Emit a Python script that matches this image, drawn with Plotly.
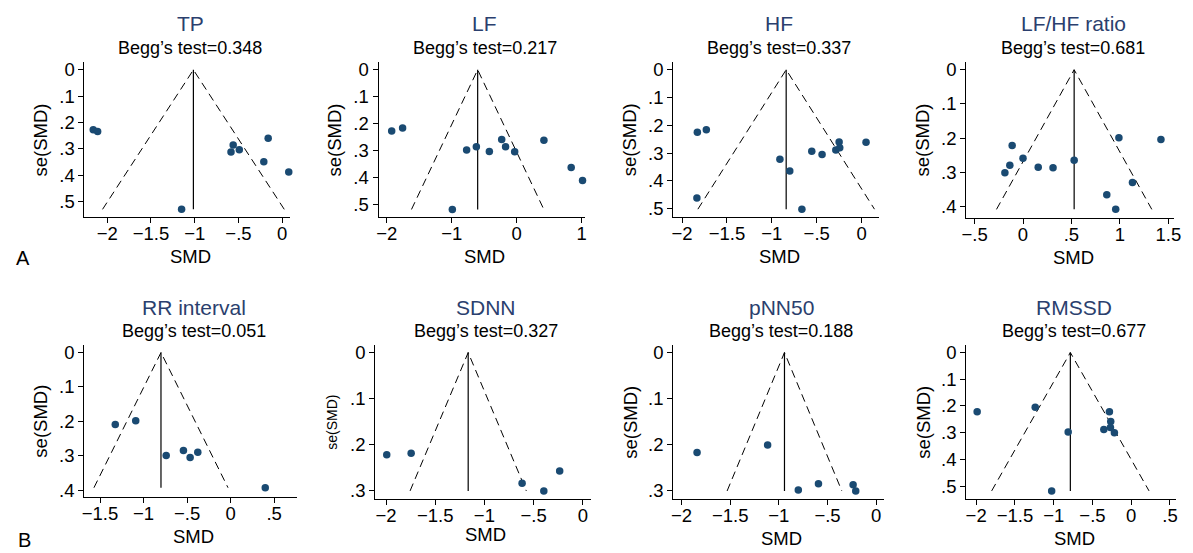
import plotly.graph_objects as go

W, H = 1193, 553

# ---------------- data ----------------
names = ["TP", "LF", "HF", "LF/HF ratio", "RR interval", "SDNN", "pNN50", "RMSSD"]
begg = ["0.348", "0.217", "0.337", "0.681", "0.051", "0.327", "0.188", "0.677"]

tp_smd = [-2.16, -2.11, -1.15, -0.56, -0.585, -0.49, -0.16, -0.21, 0.075]
tp_se = [0.228, 0.234, 0.53, 0.286, 0.312, 0.304, 0.26, 0.349, 0.388]
lf_smd = [-1.924, -1.756, -0.99, -0.77, -0.62, -0.42, -0.23, -0.17, -0.03, 0.42, 0.84, 1.015]
lf_se = [0.228, 0.217, 0.52, 0.299, 0.287, 0.304, 0.26, 0.287, 0.305, 0.262, 0.364, 0.412]
hf_smd = [-1.83, -1.73, -1.835, -0.91, -0.80, -0.665, -0.555, -0.44, -0.287, -0.25, -0.243, 0.05]
hf_se = [0.225, 0.216, 0.462, 0.322, 0.365, 0.502, 0.293, 0.305, 0.289, 0.26, 0.281, 0.261]
lfhf_smd = [-0.187, -0.136, -0.112, 0.0, 0.157, 0.31, 0.528, 0.99, 1.424, 1.13, 0.865, 0.957]
lfhf_se = [0.302, 0.28, 0.222, 0.259, 0.286, 0.287, 0.265, 0.199, 0.204, 0.33, 0.366, 0.409]
rr_smd = [-1.325, -1.09, -0.74, -0.542, -0.465, -0.377, 0.398]
rr_se = [0.209, 0.198, 0.299, 0.285, 0.305, 0.29, 0.393]
sdnn_smd = [-1.993, -1.745, -0.617, -0.396, -0.235]
sdnn_se = [0.2225, 0.2197, 0.285, 0.3015, 0.258]
pnn_smd = [-1.84, -1.115, -0.80, -0.593, -0.237, -0.21]
pnn_se = [0.217, 0.2007, 0.2986, 0.285, 0.287, 0.3007]
rmssd_smd = [-1.987, -1.238, -0.813, -0.353, -0.281, -0.264, -0.268, -0.217, -1.026]
rmssd_se = [0.2217, 0.2044, 0.297, 0.288, 0.2217, 0.2586, 0.281, 0.300, 0.518]

# pooled SMD (funnel centre)
pooled = [-1.015, -0.60, -0.84, 0.528, -0.80, -1.165, -0.942, -0.785]

smd_list = [tp_smd, lf_smd, hf_smd, lfhf_smd, rr_smd, sdnn_smd, pnn_smd, rmssd_smd]
se_list = [tp_se, lf_se, hf_se, lfhf_se, rr_se, sdnn_se, pnn_se, rmssd_se]

xticks = [
    [-2, -1.5, -1, -0.5, 0],
    [-2, -1, 0, 1],
    [-2, -1.5, -1, -0.5, 0],
    [-0.5, 0, 0.5, 1, 1.5],
    [-1.5, -1, -0.5, 0, 0.5],
    [-2, -1.5, -1, -0.5, 0],
    [-2, -1.5, -1, -0.5, 0],
    [-2, -1.5, -1, -0.5, 0, 0.5],
]
yticks = [
    [0, 0.1, 0.2, 0.3, 0.4, 0.5],
    [0, 0.1, 0.2, 0.3, 0.4, 0.5],
    [0, 0.1, 0.2, 0.3, 0.4, 0.5],
    [0, 0.1, 0.2, 0.3, 0.4],
    [0, 0.1, 0.2, 0.3, 0.4],
    [0, 0.1, 0.2, 0.3],
    [0, 0.1, 0.2, 0.3],
    [0, 0.1, 0.2, 0.3, 0.4, 0.5],
]

# ---------------- layout geometry ----------------
# plot boxes in pixels: left, right, top, bottom
boxes = [
    (80.3, 288.3, 60, 216.7),
    (377.3, 585.7, 60, 216.7),
    (675, 883.3, 60, 216.7),
    (971, 1181, 60, 217.3),
    (80, 295, 346.7, 500),
    (374, 591.7, 346.7, 502.3),
    (675, 887.7, 346.7, 502.3),
    (971, 1183.3, 346.7, 502.3),
]
xranges = [(-2.26, 0.094), (-2.127, 1.05), (-2.099, 0.199), (-0.586, 1.56),
           (-1.682, 0.763), (-2.11, 0.081), (-2.085, 0.078), (-2.128, 0.583)]
yranges = [(0.559, -0.029), (0.548, -0.028), (0.53, -0.027), (0.433, -0.022),
           (0.419, -0.021), (0.319, -0.0158), (0.318, -0.0157), (0.548, -0.027)]

FONT = "Liberation Sans, Arial, Helvetica, sans-serif"
DOT = "#1a4a72"
TITLE = "#2b3f6e"


def fmt(v):
    if abs(v) < 1e-9:
        return "0"
    s = ("%g" % abs(v))
    if s.startswith("0."):
        s = s[1:]
    return ("\u2212" + s) if v < 0 else s


fig = go.Figure()
annotations = []

for i in range(8):
    k = i + 1
    xa = "x" if k == 1 else f"x{k}"
    ya = "y" if k == 1 else f"y{k}"
    l, r, t, b = boxes[i]
    semax = max(se_list[i])
    c = pooled[i]
    hw = 1.96 * semax
    # pseudo 95% confidence limits
    fig.add_trace(go.Scatter(
        x=[c - hw, c, c + hw], y=[semax, 0, semax], mode="lines",
        line=dict(color="black", width=1, dash="8px,5px"),
        xaxis=xa, yaxis=ya, showlegend=False, hoverinfo="skip"))
    # pooled estimate line
    fig.add_trace(go.Scatter(
        x=[c, c], y=[0, semax], mode="lines",
        line=dict(color="black", width=1.2),
        xaxis=xa, yaxis=ya, showlegend=False, hoverinfo="skip"))
    # studies
    fig.add_trace(go.Scatter(
        x=smd_list[i], y=se_list[i], mode="markers",
        marker=dict(color=DOT, size=7.5),
        cliponaxis=False,
        xaxis=xa, yaxis=ya, showlegend=False))

    axcommon = dict(showline=True, linecolor="black", linewidth=1,
                    ticks="outside", ticklen=5, tickwidth=1, tickcolor="black",
                    showgrid=False, zeroline=False,
                    tickfont=dict(family=FONT, size=18.5, color="black"))
    fig.layout[f"xaxis{'' if k == 1 else k}"] = dict(
        domain=[l / W, r / W], range=list(xranges[i]), anchor=ya,
        tickmode="array", tickvals=xticks[i], ticktext=[fmt(v) for v in xticks[i]],
        ticklabelstandoff=-5,
        **axcommon)
    fig.layout[f"yaxis{'' if k == 1 else k}"] = dict(
        domain=[1 - b / H, 1 - t / H], range=list(yranges[i]), anchor=xa,
        tickmode="array", tickvals=yticks[i], ticktext=[fmt(v) for v in yticks[i]],
        **axcommon)

    row_top = 0 if i < 4 else 280
    cx = (l + r) / 2 + 3
    # title
    annotations.append(dict(text=names[i], x=cx / W, y=1 - (row_top + (21 if i < 4 else 28)) / H,
                            xref="paper", yref="paper", showarrow=False,
                            xanchor="center", yanchor="middle",
                            font=dict(family=FONT, size=21, color=TITLE)))
    annotations.append(dict(text="Begg\u2019s test=" + begg[i], x=cx / W,
                            y=1 - (row_top + (46 if i < 4 else 52)) / H,
                            xref="paper", yref="paper", showarrow=False,
                            xanchor="center", yanchor="middle",
                            font=dict(family=FONT, size=18, color="black")))
    # x axis title
    sy = b + 40 if i != 5 else b + 36
    annotations.append(dict(text="SMD", x=cx / W, y=1 - sy / H,
                            xref="paper", yref="paper", showarrow=False,
                            xanchor="center", yanchor="middle",
                            font=dict(family=FONT, size=18.5, color="black")))
    # y axis title
    annotations.append(dict(text="se(SMD)", x=(l - 44) / W, y=1 - ((t + b) / 2) / H,
                            xref="paper", yref="paper", showarrow=False, textangle=-90,
                            xanchor="center", yanchor="middle",
                            font=dict(family=FONT, size=18.5 if i != 5 else 14, color="black")))

annotations.append(dict(text="A", x=18 / W, y=1 - 258 / H, xref="paper", yref="paper",
                        showarrow=False, xanchor="center", yanchor="middle",
                        font=dict(family=FONT, size=20, color="black")))
annotations.append(dict(text="B", x=20 / W, y=1 - 544 / H, xref="paper", yref="paper",
                        showarrow=False, xanchor="center", yanchor="middle",
                        font=dict(family=FONT, size=20, color="black")))

fig.update_layout(width=W, height=H, margin=dict(l=0, r=0, t=0, b=0),
                  paper_bgcolor="white", plot_bgcolor="white",
                  annotations=annotations, showlegend=False,
                  font=dict(family=FONT))

fig.write_html("out.html", config={"displayModeBar": False},
               post_script="document.body.style.margin='0px';document.body.style.padding='0px';document.body.style.overflow='hidden';")
